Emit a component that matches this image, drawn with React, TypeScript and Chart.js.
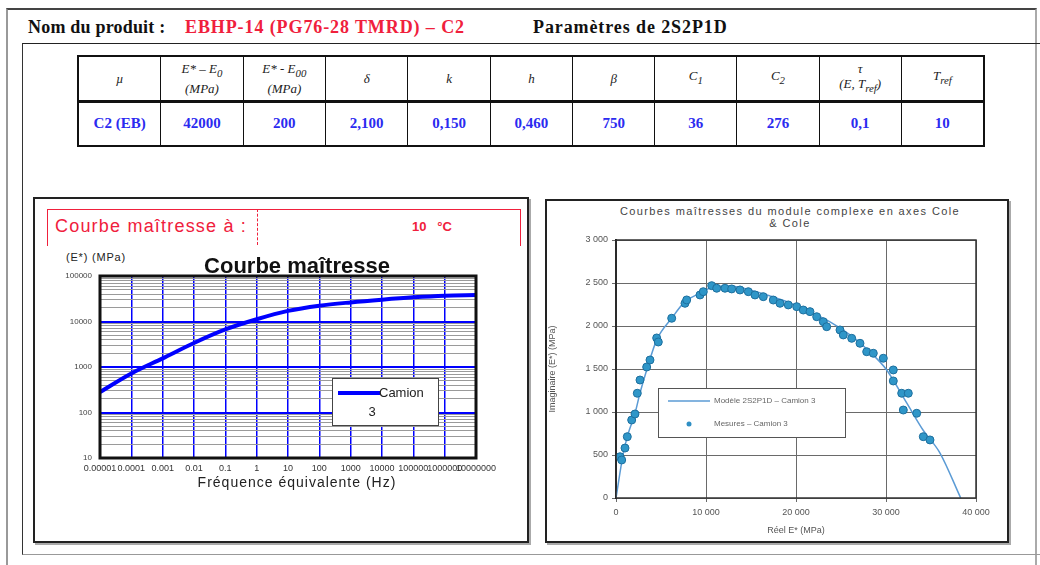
import React, { useEffect, useRef } from 'react';
import { Chart, registerables } from 'chart.js';
Chart.register(...registerables);

// ---------- data ----------
const productName = 'EBHP-14 (PG76-28 TMRD) – C2';
const tableValues = ['C2 (EB)', '42000', '200', '2,100', '0,150', '0,460', '750', '36', '276', '0,1', '10'];
const referenceTemp = '10';

// master curve (left)
const seriesName = 'Camion 3';
const frequencies = [1e-5, 1e-4, 1e-3, 1e-2, 1e-1, 1, 10, 100, 1e3, 1e4, 1e5, 1e6, 1e7];
const masterModulus = [282, 720, 1550, 3370, 6680, 11200, 17100, 22200, 26300, 30200, 34000, 37000, 38300];
const freqTickLabels = ['0.00001', '0.0001', '0.001', '0.01', '0.1', '1', '10', '100', '1000', '10000', '100000', '1000000', '10000000'];
const modulusTickLabels = ['10', '100', '1000', '10000', '100000'];

// Cole-Cole (right)
const modelName = 'Modèle 2S2P1D – Camion 3';
const measName = 'Mesures – Camion 3';
const modelReal = [0, 811, 1367, 2111, 2667, 3411, 4522, 6189, 7666, 9333, 10778, 12666, 14888, 17111, 19333, 21555, 23777, 26000, 28222, 30077, 32300, 34111, 36000, 38300];
const modelImag = [0, 520, 752, 985, 1221, 1489, 1838, 2090, 2283, 2380, 2454, 2466, 2419, 2349, 2268, 2163, 2047, 1896, 1698, 1489, 1105, 791, 523, 0];
const measReal = [444, 633, 1000, 1255, 1744, 2111, 2366, 2666, 3411, 3777, 4522, 4700, 6189, 7666, 7855, 9333, 9700, 10633, 11188, 12110, 12855, 13777, 14700, 15444, 16366, 17477, 18222, 19144, 20077, 20810, 21555, 22300, 23033, 23411, 24888, 25255, 26188, 27110, 27855, 28588, 29700, 30810, 30810, 31744, 32477, 31922, 33411, 34144, 34888];
const measImag = [480, 442, 581, 713, 907, 977, 1218, 1372, 1523, 1605, 1861, 1814, 2090, 2264, 2303, 2361, 2399, 2469, 2439, 2439, 2431, 2419, 2399, 2361, 2341, 2302, 2264, 2245, 2225, 2186, 2167, 2108, 2050, 1992, 1954, 1896, 1857, 1799, 1701, 1683, 1625, 1489, 1361, 1218, 1218, 1023, 985, 713, 675];
const realTickLabels = ['0', '10 000', '20 000', '30 000', '40 000'];
const imagTickLabels = ['0', '500', '1 000', '1 500', '2 000', '2 500', '3 000'];

const SANS = '"Liberation Sans", Arial, sans-serif';
const SERIF = '"Liberation Serif", "Times New Roman", serif';
const RED = '#f0203c';
const BLUE_TXT = '#2b2bf0';

const toNum = (s: string) => Number(s.replace(/\s/g, ''));

const framePlugin = (color: string, width: number) => ({
  id: 'frame',
  afterDraw(chart: any) {
    const { ctx, chartArea: a } = chart;
    ctx.save();
    ctx.strokeStyle = color;
    ctx.lineWidth = width;
    ctx.strokeRect(a.left, a.top, a.right - a.left, a.bottom - a.top);
    ctx.restore();
  },
});

function MasterChart() {
  const ref = useRef<HTMLCanvasElement>(null);
  useEffect(() => {
    const decades = freqTickLabels.map(Number);
    const yMajors = modulusTickLabels.map(Number);
    const yTicks: number[] = [];
    yMajors.forEach((d, i) => {
      yTicks.push(d);
      if (i < yMajors.length - 1) for (let m = 2; m <= 9; m++) yTicks.push(d * m);
    });
    const isMajorY = (v: number) => yMajors.some((d) => Math.abs(d - v) < 1e-9 * d);
    const legendPlugin = {
      id: 'leftLegend',
      afterDraw(chart: any) {
        const { ctx, chartArea: a } = chart;
        const w = a.right - a.left, h = a.bottom - a.top;
        const x = Math.round(a.left + w * 0.617), y = Math.round(a.top + h * 0.56);
        const bw = 106, bh = 47;
        const parts = seriesName.split(' ');
        ctx.save();
        ctx.fillStyle = '#fff';
        ctx.fillRect(x, y, bw, bh);
        ctx.strokeStyle = '#444';
        ctx.lineWidth = 1;
        ctx.strokeRect(x + 0.5, y + 0.5, bw, bh);
        ctx.strokeStyle = '#0000ff';
        ctx.lineWidth = 4;
        ctx.beginPath();
        ctx.moveTo(x + 6, y + 15);
        ctx.lineTo(x + 48, y + 15);
        ctx.stroke();
        ctx.fillStyle = '#222';
        ctx.font = '13px ' + SANS;
        ctx.textBaseline = 'middle';
        ctx.fillText(parts[0], x + 47, y + 15);
        ctx.textAlign = 'center';
        ctx.fillText(parts[1], x + 40, y + 34);
        ctx.restore();
      },
    };
    const chart = new Chart(ref.current!, {
      type: 'line',
      data: {
        datasets: [
          {
            label: seriesName,
            data: frequencies.map((f, i) => ({ x: f, y: masterModulus[i] })),
            borderColor: '#0000ff',
            borderWidth: 4,
            pointRadius: 0,
            cubicInterpolationMode: 'monotone',
            fill: false,
          },
        ],
      },
      options: {
        animation: false,
        responsive: false,
        layout: { padding: { top: 26, right: 49, left: 0, bottom: 0 } },
        plugins: { legend: { display: false }, title: { display: false }, tooltip: { enabled: false } },
        scales: {
          x: {
            type: 'logarithmic',
            min: decades[0],
            max: decades[decades.length - 1],
            afterBuildTicks: (s: any) => { s.ticks = decades.map((v) => ({ value: v })); },
            afterFit: (s: any) => { s.height = 42; },
            grid: { color: '#0000ff', lineWidth: 1.5, drawTicks: false },
            border: { display: false },
            ticks: {
              autoSkip: false, maxRotation: 0, minRotation: 0, padding: 5,
              font: { size: 9, family: SANS }, color: '#333',
              callback: (_v: any, i: number) => freqTickLabels[i],
            },
          },
          y: {
            type: 'logarithmic',
            min: yMajors[0],
            max: yMajors[yMajors.length - 1],
            afterBuildTicks: (s: any) => { s.ticks = yTicks.map((v) => ({ value: v })); },
            afterFit: (s: any) => { s.width = 65; },
            grid: {
              drawTicks: false,
              color: (c: any) => (c.tick && isMajorY(c.tick.value) ? '#0000ff' : '#9a9a9a'),
              lineWidth: (c: any) => (c.tick && isMajorY(c.tick.value) ? 2 : 1),
            },
            border: { display: false },
            ticks: {
              autoSkip: false, padding: 8,
              font: { size: 8, family: SANS }, color: '#444',
              callback: (v: any) => {
                const i = yMajors.findIndex((d) => Math.abs(d - v) < 1e-9 * d);
                return i >= 0 ? modulusTickLabels[i] : '';
              },
            },
          },
        },
      } as any,
      plugins: [framePlugin('#111', 3), legendPlugin],
    });
    return () => chart.destroy();
  }, []);
  return <canvas ref={ref} width={490} height={250} style={{ position: 'absolute', left: 35, top: 250, width: 490, height: 250 }} />;
}

function ColeChart() {
  const ref = useRef<HTMLCanvasElement>(null);
  useEffect(() => {
    const xVals = realTickLabels.map(toNum);
    const yVals = imagTickLabels.map(toNum);
    const legendPlugin = {
      id: 'rightLegend',
      afterDraw(chart: any) {
        const { ctx, chartArea: a } = chart;
        const w = a.right - a.left, h = a.bottom - a.top;
        const x = Math.round(a.left + w * 0.117), y = Math.round(a.top + h * 0.574);
        const bw = 187, bh = 49;
        ctx.save();
        ctx.fillStyle = '#fff';
        ctx.fillRect(x, y, bw, bh);
        ctx.strokeStyle = '#555';
        ctx.lineWidth = 1;
        ctx.strokeRect(x + 0.5, y + 0.5, bw, bh);
        ctx.strokeStyle = '#5b9bd5';
        ctx.lineWidth = 1.5;
        ctx.beginPath();
        ctx.moveTo(x + 10, y + 13);
        ctx.lineTo(x + 52, y + 13);
        ctx.stroke();
        ctx.fillStyle = '#2f8fc4';
        ctx.beginPath();
        ctx.arc(x + 31, y + 36, 2.5, 0, Math.PI * 2);
        ctx.fill();
        ctx.fillStyle = '#666';
        ctx.font = '8px ' + SANS;
        ctx.textBaseline = 'middle';
        ctx.fillText(modelName, x + 56, y + 13);
        ctx.fillText(measName, x + 56, y + 36);
        ctx.restore();
      },
    };
    const chart = new Chart(ref.current!, {
      type: 'scatter',
      data: {
        datasets: [
          {
            label: modelName,
            data: modelReal.map((r, i) => ({ x: r, y: modelImag[i] })),
            showLine: true,
            borderColor: '#5b9bd5',
            borderWidth: 1.5,
            pointRadius: 0,
            cubicInterpolationMode: 'monotone',
            order: 2,
          },
          {
            label: measName,
            data: measReal.map((r, i) => ({ x: r, y: measImag[i] })),
            showLine: false,
            backgroundColor: '#2f96c8',
            borderColor: '#1d6f9e',
            borderWidth: 1,
            pointRadius: 4,
            order: 1,
          },
        ],
      },
      options: {
        animation: false,
        responsive: false,
        layout: { padding: { top: 39, right: 27, left: 0, bottom: 0 } },
        plugins: { legend: { display: false }, title: { display: false }, tooltip: { enabled: false } },
        scales: {
          x: {
            type: 'linear',
            min: xVals[0],
            max: xVals[xVals.length - 1],
            afterBuildTicks: (s: any) => { s.ticks = xVals.map((v) => ({ value: v })); },
            afterFit: (s: any) => { s.height = 41; },
            grid: { color: '#6a6a6a', lineWidth: 1, tickLength: 4 },
            border: { display: false },
            title: { display: true, text: 'Réel E* (MPa)', font: { size: 9, family: SANS }, color: '#555', padding: { top: 0, bottom: 3 } },
            ticks: {
              autoSkip: false, maxRotation: 0, padding: 5,
              font: { size: 9, family: SANS }, color: '#555',
              callback: (_v: any, i: number) => realTickLabels[i],
            },
          },
          y: {
            type: 'linear',
            min: yVals[0],
            max: yVals[yVals.length - 1],
            afterBuildTicks: (s: any) => { s.ticks = yVals.map((v) => ({ value: v })); },
            afterFit: (s: any) => { s.width = 69; },
            grid: { color: '#6a6a6a', lineWidth: 1, tickLength: 4 },
            border: { display: true, color: '#111', width: 2 },
            title: { display: true, text: 'Imaginaire (E*) (MPa)', font: { size: 9, family: SANS }, color: '#555', padding: { top: 0, bottom: 0 } },
            ticks: {
              autoSkip: false, padding: 4,
              font: { size: 9, family: SANS }, color: '#555',
              callback: (_v: any, i: number) => imagTickLabels[i],
            },
          },
        },
      } as any,
      plugins: [framePlugin('#333', 1.5), legendPlugin],
    });
    return () => chart.destroy();
  }, []);
  return <canvas ref={ref} width={456} height={338} style={{ position: 'absolute', left: 547, top: 201, width: 456, height: 338 }} />;
}

const abs = (s: React.CSSProperties): React.CSSProperties => ({ position: 'absolute', ...s });

const headerCells: React.ReactNode[] = [
  <i>µ</i>,
  <span><i>E* – E<sub>0</sub></i><br /><i>(MPa)</i></span>,
  <span><i>E* - E<sub>00</sub></i><br /><i>(MPa)</i></span>,
  <i>δ</i>,
  <i>k</i>,
  <i>h</i>,
  <i>β</i>,
  <i>C<sub>1</sub></i>,
  <i>C<sub>2</sub></i>,
  <span><i>τ</i><br /><i>(E, T<sub>ref</sub>)</i></span>,
  <i>T<sub>ref</sub></i>,
];

export default function App() {
  const cellBase: React.CSSProperties = {
    border: '1.5px solid #111', width: 82, textAlign: 'center', padding: 0,
  };
  return (
    <div style={abs({ left: 0, top: 0, width: 1040, height: 565, background: '#fff', overflow: 'hidden', fontFamily: SANS })}>
      {/* frames */}
      <div style={abs({ left: 6, top: 8, width: 1027, height: 600, borderTop: '2px solid #444', borderLeft: '2px solid #999', borderRight: '2px solid #aaa' })} />
      <div style={abs({ left: 22, top: 43, width: 1020, height: 510, borderTop: '1.5px solid #222', borderLeft: '1.5px solid #333', borderBottom: '1px solid #999' })} />

      {/* header */}
      <div style={abs({ left: 28, top: 17, fontFamily: SERIF, fontWeight: 'bold', fontSize: 18, letterSpacing: 0.2, color: '#111', whiteSpace: 'nowrap' })}>Nom du produit :</div>
      <div style={abs({ left: 185, top: 17, fontFamily: SERIF, fontWeight: 'bold', fontSize: 18, letterSpacing: 0.9, color: RED, whiteSpace: 'nowrap' })}>{productName}</div>
      <div style={abs({ left: 533, top: 17, fontFamily: SERIF, fontWeight: 'bold', fontSize: 18, letterSpacing: 0.9, color: '#111', whiteSpace: 'nowrap' })}>Paramètres de 2S2P1D</div>

      {/* parameter table */}
      <table style={abs({ left: 77, top: 55, width: 908, height: 90, borderCollapse: 'collapse', fontFamily: SERIF, border: '2px solid #111' })}>
        <tbody>
          <tr style={{ height: 45 }}>
            {headerCells.map((c, i) => (
              <td key={i} style={{ ...cellBase, fontSize: 13, lineHeight: '15px', color: '#222', borderBottom: '3px solid #111' }}>{c}</td>
            ))}
          </tr>
          <tr style={{ height: 45 }}>
            {tableValues.map((v, i) => (
              <td key={i} style={{ ...cellBase, fontSize: 15, fontWeight: 'bold', color: BLUE_TXT }}>{v}</td>
            ))}
          </tr>
        </tbody>
      </table>

      {/* left box */}
      <div style={abs({ left: 33, top: 197, width: 492, height: 342, border: '2px solid #222', boxShadow: '2px 2px 0 #aaa' })} />
      <div style={abs({ left: 47, top: 209, width: 472, height: 36, borderTop: `1.5px solid ${RED}`, borderLeft: `1.5px solid ${RED}`, borderRight: `1.5px solid ${RED}` })} />
      <div style={abs({ left: 257, top: 209, width: 0, height: 36, borderLeft: `1px dashed ${RED}` })} />
      <div style={abs({ left: 55, top: 216, fontSize: 18, color: RED, whiteSpace: 'nowrap', letterSpacing: 1.2 })}>Courbe maîtresse à :</div>
      <div style={abs({ left: 412, top: 219, fontSize: 13, fontWeight: 'bold', color: RED, whiteSpace: 'nowrap' })}>{referenceTemp}&nbsp;&nbsp;&nbsp;°C</div>
      <div style={abs({ left: 66, top: 251, fontSize: 11, color: '#222', whiteSpace: 'nowrap', letterSpacing: 0.8 })}>(E*) (MPa)</div>
      <MasterChart />
      <div style={abs({ left: 150, top: 253, width: 294, textAlign: 'center', fontSize: 22, fontWeight: 'bold', color: '#111', whiteSpace: 'nowrap' })}>Courbe maîtresse</div>
      <div style={abs({ left: 140, top: 474, width: 314, textAlign: 'center', fontSize: 14, letterSpacing: 1, color: '#222', whiteSpace: 'nowrap' })}>Fréquence équivalente (Hz)</div>

      {/* right box */}
      <div style={abs({ left: 545, top: 199, width: 460, height: 340, border: '2px solid #222', boxShadow: '2px 2px 0 #aaa' })} />
      <div style={abs({ left: 560, top: 205, width: 460, textAlign: 'center', fontSize: 11, lineHeight: '12px', color: '#444', letterSpacing: 1.4 })}>
        Courbes maîtresses du module complexe en axes Cole<br />&amp; Cole
      </div>
      <ColeChart />
    </div>
  );
}
